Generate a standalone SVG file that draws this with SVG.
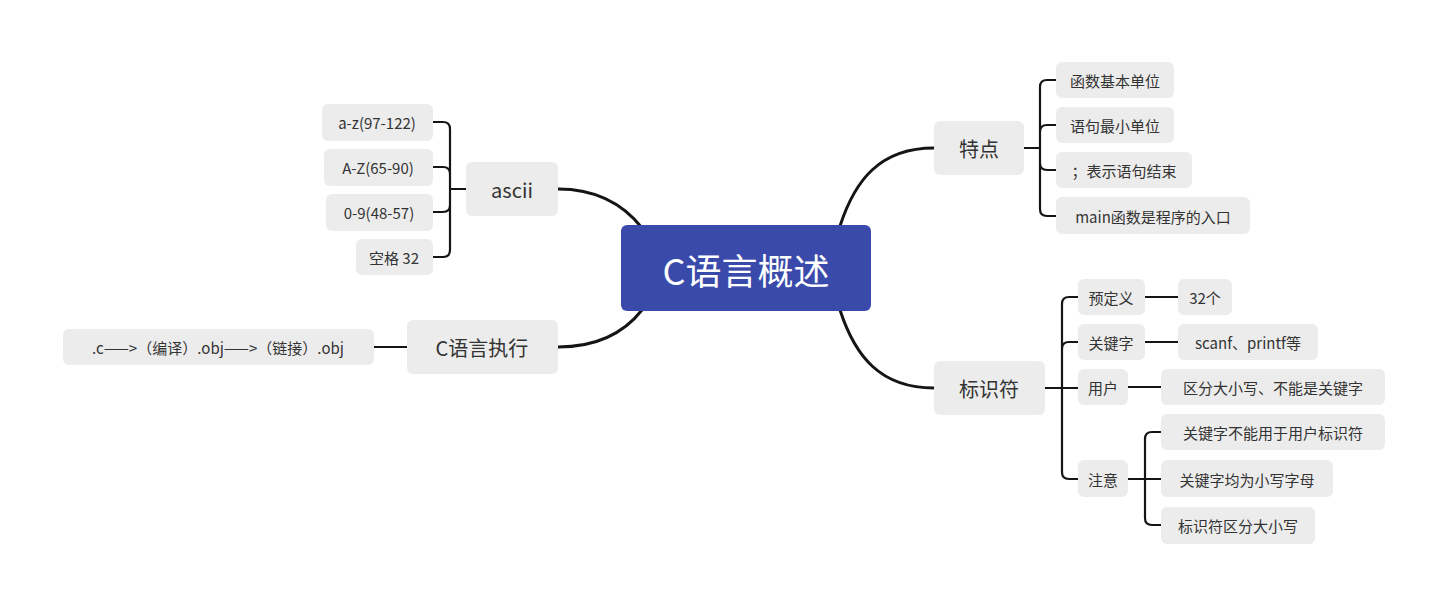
<svg xmlns="http://www.w3.org/2000/svg" width="1448" height="608" viewBox="0 0 1448 608">
<style>
text{font-family:"Noto Sans CJK SC","Noto Sans",sans-serif;fill:#333;dominant-baseline:central}
.b{fill:#ececec}
.l{font-size:15px;text-anchor:middle}
.m{font-size:20px;text-anchor:middle}
.c{fill:none;stroke:#151515;stroke-width:3;stroke-linecap:round}
.t{fill:none;stroke:#151515;stroke-width:2.2}
</style>
<rect width="1448" height="608" fill="#fff"/>
<g id="connectors">
<path class="c" d="M642 228 C620 200 590 189 558 189"/>
<path class="c" d="M642 310 C620 338 590 347 558 347"/>
<path class="c" d="M840 226 C855 180 880 148 934 148"/>
<path class="c" d="M840 310 C855 356 880 388 934 388"/>
<path class="t" d="M466 189 H450 M433 122 H443 Q450 122 450 129 V250 Q450 257 443 257 H433 M433 167 H443 Q450 167 450 174 V205 Q450 212 443 212 H433"/>
<path class="t" d="M407 347 H374"/>
<path class="t" d="M1024 148 H1040 M1056 80 H1047 Q1040 80 1040 87 V209 Q1040 216 1047 216 H1056 M1056 125 H1047 Q1040 125 1040 132 V163 Q1040 170 1047 170 H1056"/>
<path class="t" d="M1045 388 H1078 M1078 297 H1069 Q1062 297 1062 304 V472 Q1062 479 1069 479 H1078 M1078 342 H1069 Q1062 342 1062 349"/>
<path class="t" d="M1145 297 H1178 M1145 342 H1178 M1128 387 H1161"/>
<path class="t" d="M1128 479 H1161 M1161 432 H1152 Q1145 432 1145 439 V518 Q1145 525 1152 525 H1161"/>
</g>
<g id="root"><rect x="621" y="225" width="250" height="86" rx="6" fill="#3a4aab"/><text x="746" y="269" font-size="36" text-anchor="middle" style="fill:#fff">C语言概述</text></g>
<g id="ascii"><rect class="b" x="466" y="162" width="92" height="54" rx="6"/><text class="m" x="512" y="189">ascii</text></g>
<g id="exec"><rect class="b" x="407" y="320" width="151" height="54" rx="6"/><text class="m" x="482" y="347">C语言执行</text></g>
<g id="exec1"><rect class="b" x="63" y="329" width="311" height="36" rx="6"/><text class="l" x="218" y="347">.c——>（编译）.obj——>（链接）.obj</text></g>
<g id="a1"><rect class="b" x="322" y="104" width="111" height="37" rx="6"/><text class="l" x="377" y="122">a-z(97-122)</text></g>
<g id="a2"><rect class="b" x="324" y="149" width="109" height="37" rx="6"/><text class="l" x="378" y="167">A-Z(65-90)</text></g>
<g id="a3"><rect class="b" x="326" y="194" width="107" height="37" rx="6"/><text class="l" x="379" y="212">0-9(48-57)</text></g>
<g id="a4"><rect class="b" x="356" y="239" width="77" height="36" rx="6"/><text class="l" x="394" y="257">空格 32</text></g>
<g id="tedian"><rect class="b" x="934" y="121" width="90" height="54" rx="6"/><text class="m" x="979" y="148">特点</text></g>
<g id="t1"><rect class="b" x="1056" y="62" width="118" height="36" rx="6"/><text class="l" x="1115" y="80">函数基本单位</text></g>
<g id="t2"><rect class="b" x="1056" y="107" width="118" height="36" rx="6"/><text class="l" x="1115" y="125">语句最小单位</text></g>
<g id="t3"><rect class="b" x="1056" y="152" width="136" height="36" rx="6"/><text class="l" x="1124" y="170">；表示语句结束</text></g>
<g id="t4"><rect class="b" x="1056" y="197" width="194" height="37" rx="6"/><text class="l" x="1153" y="216">main函数是程序的入口</text></g>
<g id="biaoshi"><rect class="b" x="934" y="361" width="111" height="54" rx="6"/><text class="m" x="989" y="388">标识符</text></g>
<g id="s1"><rect class="b" x="1078" y="279" width="67" height="36" rx="6"/><text class="l" x="1111" y="297">预定义</text></g>
<g id="s1a"><rect class="b" x="1178" y="279" width="54" height="36" rx="6"/><text class="l" x="1205" y="297">32个</text></g>
<g id="s2"><rect class="b" x="1078" y="324" width="67" height="36" rx="6"/><text class="l" x="1111" y="342">关键字</text></g>
<g id="s2a"><rect class="b" x="1178" y="324" width="140" height="36" rx="6"/><text class="l" x="1248" y="342">scanf、printf等</text></g>
<g id="s3"><rect class="b" x="1078" y="369" width="50" height="36" rx="6"/><text class="l" x="1103" y="387">用户</text></g>
<g id="s3a"><rect class="b" x="1161" y="369" width="224" height="36" rx="6"/><text class="l" x="1273" y="387">区分大小写、不能是关键字</text></g>
<g id="s4"><rect class="b" x="1078" y="460" width="50" height="37" rx="6"/><text class="l" x="1103" y="479">注意</text></g>
<g id="s4a"><rect class="b" x="1161" y="414" width="224" height="36" rx="6"/><text class="l" x="1273" y="432">关键字不能用于用户标识符</text></g>
<g id="s4b"><rect class="b" x="1161" y="460" width="172" height="37" rx="6"/><text class="l" x="1247" y="479">关键字均为小写字母</text></g>
<g id="s4c"><rect class="b" x="1161" y="507" width="154" height="37" rx="6"/><text class="l" x="1238" y="525">标识符区分大小写</text></g>
</svg>
